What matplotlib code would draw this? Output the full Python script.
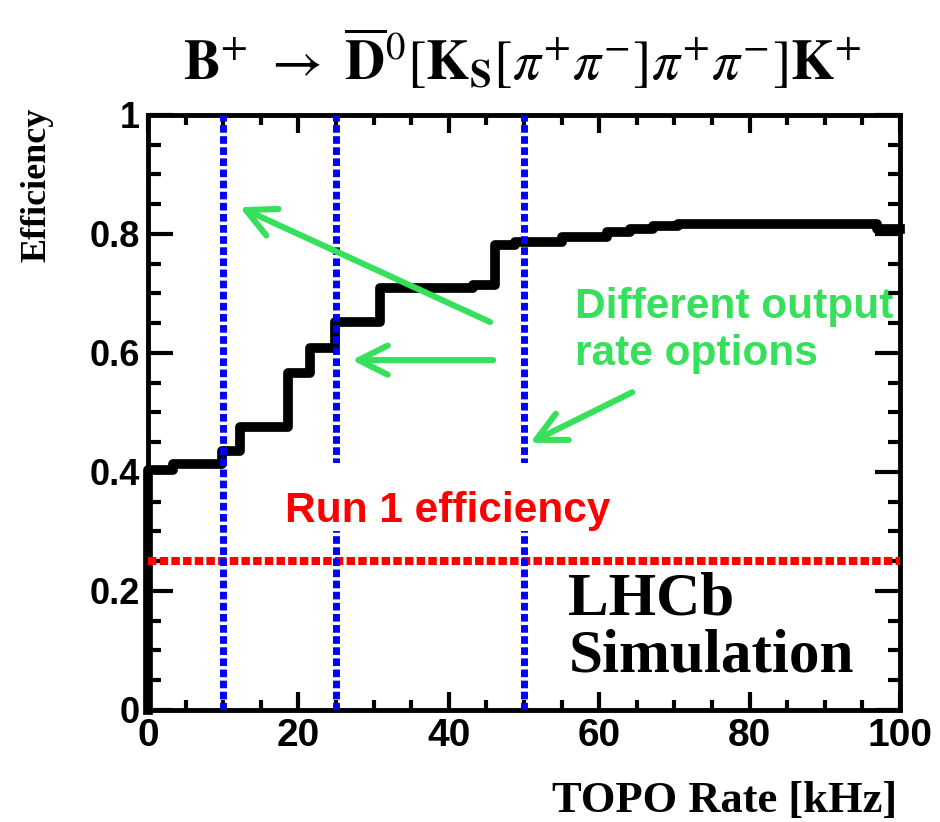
import matplotlib
matplotlib.use("Agg")
import matplotlib.pyplot as plt
from matplotlib import font_manager
from matplotlib.ticker import MultipleLocator
from matplotlib.patches import Rectangle

# cumulative efficiency vs TOPO output rate
rate_edges = [0, 3.3, 9.8, 12.2, 18.6, 21.5, 24.9, 30.9, 43.2, 46.1, 48.8,
              55.0, 61.0, 64.1, 67.2, 70.5, 96.9, 100]
efficiency = [0.404, 0.413, 0.436, 0.476, 0.566, 0.608, 0.652, 0.709, 0.714,
              0.781, 0.786, 0.795, 0.803, 0.809, 0.813, 0.817, 0.808]
rate_options = [10, 25, 50]
run1_eff = 0.25

x_ticks = [0, 20, 40, 60, 80, 100]
x_ticklabels = ["0", "20", "40", "60", "80", "100"]
y_ticks = [0, 0.2, 0.4, 0.6, 0.8, 1]
y_ticklabels = ["0", "0.2", "0.4", "0.6", "0.8", "1"]

green = "#37E05A"
serif = "Liberation Serif"
sans = "Liberation Sans"
installed = {f.name for f in font_manager.fontManager.ttflist}
narrow = "Liberation Sans Narrow" if "Liberation Sans Narrow" in installed else sans

plt.rcParams["mathtext.fontset"] = "stix"

fig = plt.figure(figsize=(9.4, 8.22), dpi=100)
ax = fig.add_axes([0.1574, 0.1363, 0.8, 0.7238])

xs = [0] + rate_edges
ys = [0] + efficiency + [efficiency[-1]]
ax.step(xs, ys, where="post", color="black", lw=7, zorder=3, clip_on=False)

ax.axhline(run1_eff, color="#FF0000", lw=5.8, ls=(0, (1.05, 0.4)), zorder=4)
for r in rate_options:
    ax.axvline(r, color="#0000FF", lw=5, ls=(0, (1.1, 0.5)), zorder=5)

# white patch behind the "Run 1 efficiency" label
ax.add_patch(Rectangle((16.9, 0.301), 45.9, 0.114, facecolor="white",
                       edgecolor="none", zorder=6))
ax.text(18.2, 0.316, "Run 1 efficiency", color="#FF0000", fontsize=30.5,
        fontweight="bold", family=sans, va="baseline", ha="left", zorder=7)

ax.text(56.8, 0.659, "Different output", color=green, fontsize=30.5,
        fontweight="bold", family=sans, va="baseline", ha="left", zorder=7)
ax.text(56.8, 0.580, "rate options", color=green, fontsize=30.5,
        fontweight="bold", family=sans, va="baseline", ha="left", zorder=7)

arrows = [((45.5, 0.652), (12.2, 0.845)),
          ((45.9, 0.588), (27.1, 0.588)),
          ((64.4, 0.534), (50.8, 0.449))]
for tail, head in arrows:
    ax.annotate("", xy=head, xytext=tail, zorder=8,
                arrowprops=dict(arrowstyle="->,head_length=2.1,head_width=1.05",
                                mutation_scale=10, lw=4.4, color=green,
                                shrinkA=0, shrinkB=0))

ax.text(55.9, 0.160, "LHCb", fontsize=44, fontweight="bold", family=serif,
        va="baseline", ha="left", zorder=7)
ax.text(55.9, 0.064, "Simulation", fontsize=44, fontweight="bold", family=serif,
        va="baseline", ha="left", zorder=7)

ax.set_xlim(0, 100)
ax.set_ylim(0, 1)
ax.set_xticks(x_ticks)
ax.set_xticklabels(x_ticklabels, fontsize=28, fontweight="bold", family=narrow)
ax.set_yticks(y_ticks)
ax.set_yticklabels(y_ticklabels, fontsize=26, fontweight="bold", family=sans)
ax.xaxis.set_minor_locator(MultipleLocator(5))
ax.yaxis.set_minor_locator(MultipleLocator(0.05))
ax.tick_params(axis="both", which="both", direction="in", top=True, right=True,
               width=3)
ax.tick_params(axis="x", which="major", length=13, pad=6)
ax.tick_params(axis="x", which="minor", length=7)
ax.tick_params(axis="y", which="major", length=18, pad=6)
ax.tick_params(axis="y", which="minor", length=9)
for s in ax.spines.values():
    s.set_linewidth(3.5)

fig.text(897 / 940, 1 - 812 / 822, "TOPO Rate [kHz]", fontsize=32,
         fontweight="bold", family=serif, ha="right", va="baseline")
fig.text(37 / 940, 1 - 108 / 822, "Efficiency", fontsize=26, fontweight="bold",
         family=serif, rotation=90, ha="center", va="top")

title = (r"$\mathbf{B}^{+}\ \rightarrow\ \overline{\mathbf{D}}^{0}"
         r"[\mathbf{K}_{\mathbf{S}}[\pi^{+}\pi^{-}]\pi^{+}\pi^{-}]\mathbf{K}^{+}$")
fig.text(522 / 940, 1 - 80 / 822, title, fontsize=40, ha="center", va="baseline")

fig.savefig("out.png", dpi=100)
